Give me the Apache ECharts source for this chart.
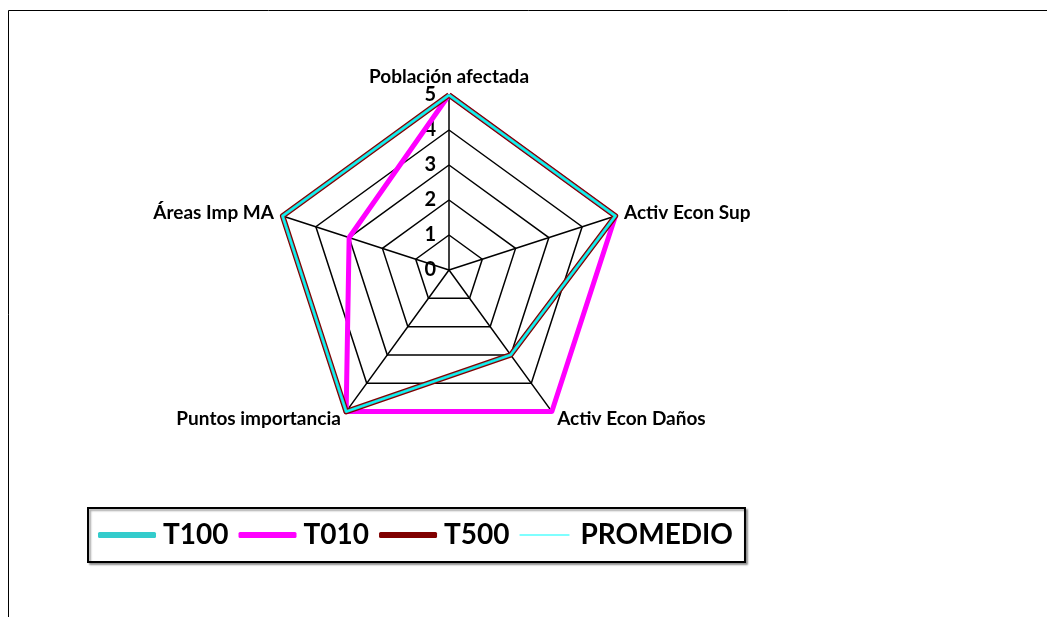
<!DOCTYPE html>
<html>
<head>
<meta charset="utf-8">
<script src="https://cdn.jsdelivr.net/npm/echarts@6/dist/echarts.min.js"></script>
<style>
  html, body { margin: 0; padding: 0; background: #fff; }
  #chart { width: 1047px; height: 617px; }
</style>
</head>
<body>
<div id="chart"></div>
<script>
// indicators, counter-clockwise from the top
var indicatorNames = ["Población afectada", "Áreas Imp MA", "Puntos importancia", "Activ Econ Daños", "Activ Econ Sup"];
var maxValue = 5;
var tickValues = [0, 1, 2, 3, 4, 5];

var seriesNames = ["T100", "T010", "T500", "PROMEDIO"];
var t100 = [5, 5, 5, 3, 5];
var t010 = [5, 3, 5, 5, 5];
var t500 = [5, 5, 5, 3, 5];
var promedio = [5, 5, 5, 3, 5];

var font = "Lato, 'Liberation Sans', sans-serif";
var center = [449, 270];
var radius = 175;

var myChart = echarts.init(document.getElementById("chart"));

function radarSeries(name, values, color, width, z) {
    return {
        name: name,
        type: "radar",
        z: z,
        symbol: "none",
        lineStyle: { color: color, width: width },
        itemStyle: { color: color },
        data: [{ name: name, value: values }]
    };
}

var option = {
    backgroundColor: "#fff",
    animation: false,
    graphic: [
        // chart frame (only top and left are visible)
        {
            type: "rect",
            shape: { x: 8.5, y: 10.5, width: 1200, height: 800 },
            style: { fill: "none", stroke: "#000", lineWidth: 1 }
        }
    ],
    radar: {
        center: center,
        radius: radius,
        startAngle: 90,
        splitNumber: 5,
        shape: "polygon",
        indicator: indicatorNames.map(function(n) {
            return { name: n, min: 0, max: maxValue };
        }),
        axisName: {
            color: "#000",
            fontFamily: font,
            fontWeight: "bold",
            fontSize: 19
        },
        nameGap: 9,
        axisLine: { lineStyle: { color: "#000", width: 1.5 } },
        splitLine: { lineStyle: { color: "#000", width: 1.5 } },
        splitArea: { show: false },
        axisTick: { show: false },
        axisLabel: { show: false }
    },
    // polar only used to print the tick labels on the vertical axis
    polar: { center: center, radius: radius },
    angleAxis: { startAngle: 90, show: false, min: 0, max: 360 },
    radiusAxis: {
        min: 0,
        max: maxValue,
        interval: 1,
        axisLine: { show: false },
        axisTick: { show: false },
        splitLine: { show: false },
        axisLabel: {
            color: "#000",
            fontFamily: font,
            fontWeight: "bold",
            fontSize: 20,
            margin: 13,
            formatter: function(v) {
                return tickValues.indexOf(v) > -1 ? String(v) : "";
            }
        }
    },
    legend: {
        left: 88,
        top: 508,
        orient: "horizontal",
        padding: [13, 12, 13, 10],
        itemGap: 10,
        itemWidth: 58,
        itemHeight: 6,
        borderColor: "#000",
        borderWidth: 2,
        backgroundColor: "#fff",
        shadowColor: "rgba(0,0,0,0.35)",
        shadowOffsetX: 2,
        shadowOffsetY: 2,
        shadowBlur: 2,
        textStyle: {
            color: "#000",
            fontFamily: font,
            fontWeight: "bold",
            fontSize: 28,
            padding: [0, 0, 0, 2]
        },
        data: [
            { name: "T100", icon: "roundRect" },
            { name: "T010", icon: "roundRect" },
            { name: "T500", icon: "roundRect" },
            { name: "PROMEDIO", icon: "path://M0,0L0.01,0L0.01,0.01Z M0,2.6H50V3.4H0Z M0,6L0.01,6L0.01,6.01Z" }
        ]
    },
    series: [
        radarSeries(seriesNames[0], t100, "#33CCCC", 3, 4),
        radarSeries(seriesNames[1], t010, "#FF00FF", 5, 1),
        radarSeries(seriesNames[2], t500, "#800000", 5.5, 2),
        radarSeries(seriesNames[3], promedio, "#00FFFF", 1.2, 5)
    ]
};

myChart.setOption(option);
</script>
</body>
</html>
